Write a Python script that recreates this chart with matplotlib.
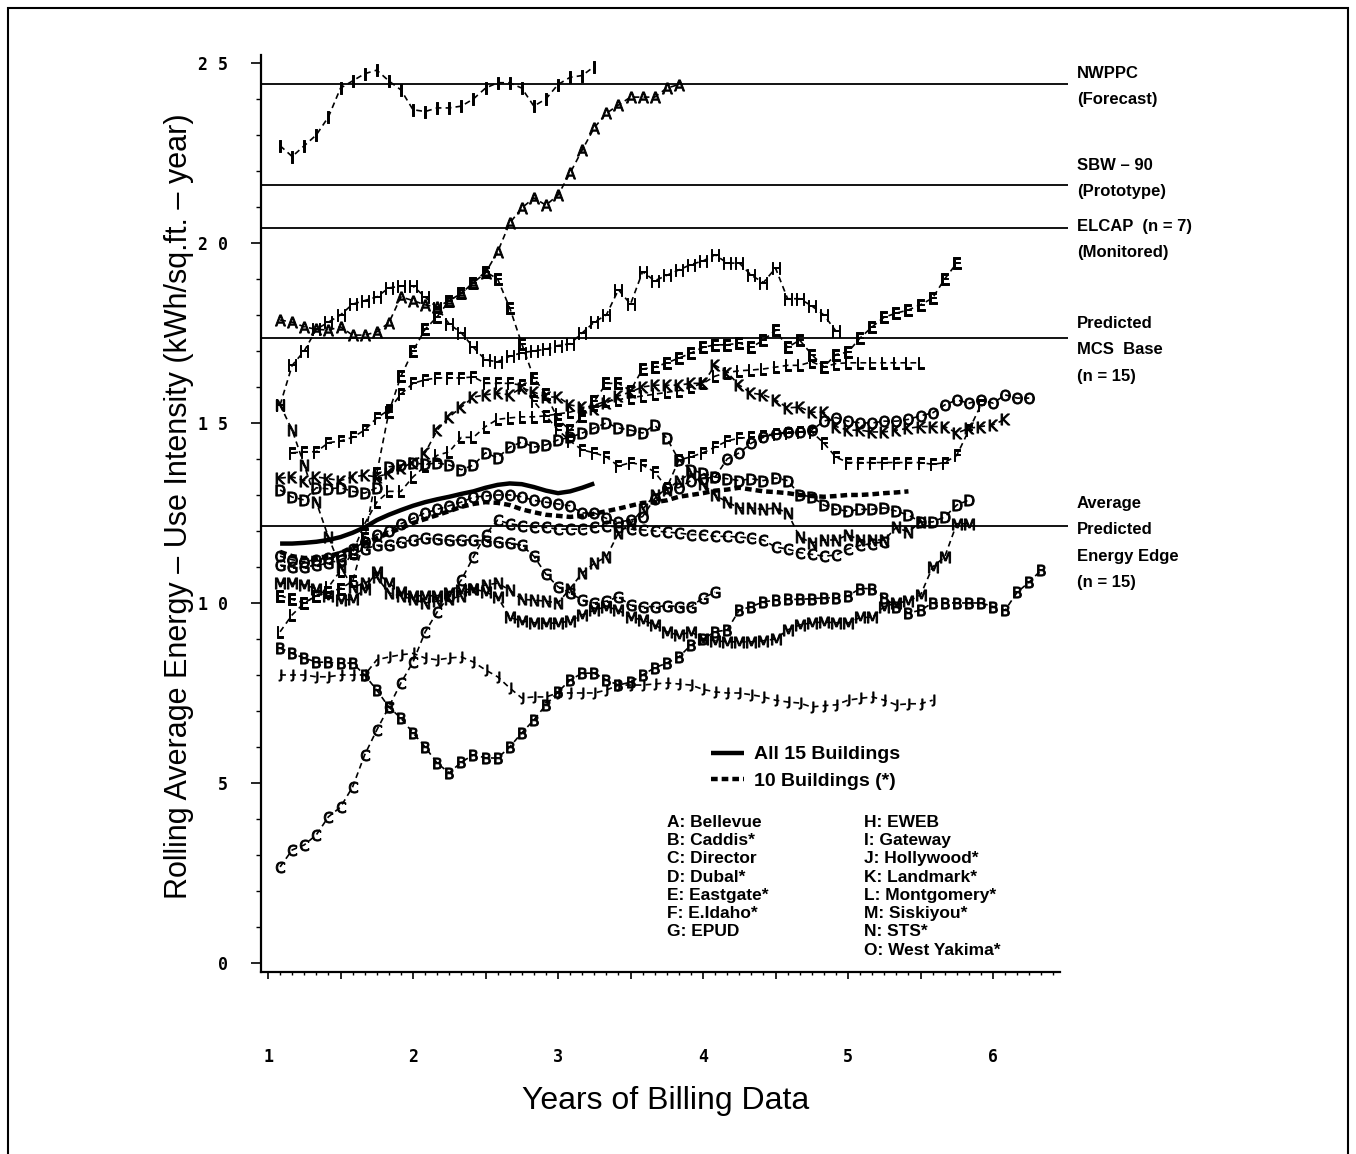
import matplotlib
matplotlib.use("Agg")
import matplotlib.pyplot as plt
from matplotlib.patches import Rectangle
from matplotlib.ticker import FixedLocator, FuncFormatter, MultipleLocator

plt.rcParams["font.family"] = ["Liberation Sans", "DejaVu Sans"]

# rolling average energy-use intensity, one value per month of billing data
bellevue = [17.86, 17.8, 17.67, 17.6, 17.58, 17.67, 17.44, 17.44, 17.53, 17.78, 18.5, 18.4,
            18.28, 18.22, 18.4, 18.6, 18.9, 19.17, 19.75, 20.55, 20.97, 21.25, 21.05, 21.33,
            21.94, 22.58, 23.2, 23.6, 23.83, 24.05, 24.05, 24.05, 24.3, 24.4]
caddis = [8.75, 8.6, 8.47, 8.36, 8.35, 8.33, 8.33, 8.0, 7.58, 7.11, 6.8, 6.39, 6.0, 5.55, 5.28,
          5.58, 5.78, 5.7, 5.69, 6.0, 6.39, 6.75, 7.17, 7.53, 7.86, 8.05, 8.05, 7.86, 7.72, 7.8,
          8.0, 8.2, 8.33, 8.5, 8.83, 9.0, 9.2, 9.25, 9.8, 9.9, 10.03, 10.08, 10.1, 10.1, 10.12,
          10.14, 10.14, 10.2, 10.4, 10.4, 10.14, 9.9, 9.72, 9.8, 10.0, 10.0, 10.0, 10.0, 10.0,
          9.9, 9.8, 10.3, 10.58, 10.92]
director = [2.67, 3.14, 3.28, 3.56, 4.06, 4.33, 4.89, 5.78, 6.47, 7.11, 7.78, 8.36, 9.19, 9.75,
            10.2, 10.64, 11.28, 11.9, 12.3, 12.2, 12.15, 12.1, 12.1, 12.05, 12.05, 12.05, 12.1,
            12.15, 12.1, 12.05, 12.03, 12.0, 11.97, 11.94, 11.9, 11.9, 11.85, 11.85, 11.83, 11.8,
            11.75, 11.55, 11.5, 11.4, 11.35, 11.3, 11.33, 11.5, 11.6, 11.65, 11.7]
dubal = [13.14, 12.94, 12.86, 13.2, 13.17, 13.2, 13.1, 13.05, 13.2, 13.78, 13.83, 13.89, 13.85,
         13.89, 13.83, 13.7, 13.83, 14.17, 14.03, 14.33, 14.47, 14.33, 14.39, 14.53, 14.6, 14.72,
         14.86, 15.0, 14.86, 14.8, 14.72, 14.94, 14.58, 13.97, 13.7, 13.6, 13.5, 13.45, 13.4,
         13.45, 13.4, 13.47, 13.4, 13.0, 12.95, 12.72, 12.6, 12.55, 12.6, 12.6, 12.64, 12.55,
         12.44, 12.25, 12.25, 12.39, 12.72, 12.86]
eastgate = [10.2, 10.1, 10.0, 10.2, 10.3, 10.4, 10.6, 11.8, 13.6, 15.3, 16.3, 17.0, 17.6, 17.95,
            18.4, 18.6, 18.9, 19.2, 19.0, 18.2, 17.2, 16.25, 15.8, 15.1, 14.8, 15.2, 15.6, 16.1,
            16.1, 15.9, 16.5, 16.55, 16.67, 16.8, 16.94, 17.1, 17.17, 17.17, 17.22, 17.1, 17.3,
            17.58, 17.1, 17.3, 16.9, 16.56, 16.9, 16.97, 17.36, 17.67, 17.94, 18.05, 18.14, 18.28,
            18.47, 19.0, 19.44]
e_idaho = [14.17, 14.2, 14.2, 14.45, 14.5, 14.6, 14.8, 15.14, 15.36, 15.8, 16.1, 16.2, 16.25,
           16.25, 16.25, 16.28, 16.1, 16.1, 16.1, 16.05, 15.6, 15.2, 14.8, 14.5, 14.25, 14.17,
           14.06, 13.8, 13.9, 13.83, 13.64, 13.2, 13.97, 14.06, 14.17, 14.33, 14.5, 14.58, 14.6,
           14.65, 14.7, 14.72, 14.75, 14.75, 14.44, 14.05, 13.9, 13.9, 13.9, 13.9, 13.9, 13.9,
           13.9, 13.85, 13.9, 14.1, 14.8, 15.5]
epud = [11.05, 11.0, 11.0, 11.05, 11.1, 11.2, 11.35, 11.5, 11.6, 11.6, 11.7, 11.75, 11.8, 11.78,
        11.75, 11.75, 11.75, 11.72, 11.7, 11.67, 11.6, 11.3, 10.8, 10.45, 10.28, 10.08, 10.0,
        10.05, 10.17, 9.94, 9.9, 9.9, 9.92, 9.9, 9.9, 10.14, 10.3]
eweb = [15.5, 16.6, 17.0, 17.6, 17.8, 18.0, 18.3, 18.4, 18.5, 18.75, 18.8, 18.8, 18.5, 18.2,
        17.75, 17.5, 17.1, 16.75, 16.7, 16.85, 16.95, 17.0, 17.05, 17.15, 17.2, 17.5, 17.8, 18.0,
        18.7, 18.3, 19.2, 18.95, 19.1, 19.25, 19.4, 19.5, 19.67, 19.44, 19.44, 19.1, 18.9, 19.3,
        18.45, 18.45, 18.25, 18.0, 17.55]
gateway = [22.7, 22.4, 22.7, 23.0, 23.5, 24.3, 24.5, 24.7, 24.8, 24.5, 24.25, 23.7, 23.65, 23.75,
           23.75, 23.8, 24.0, 24.3, 24.45, 24.45, 24.3, 23.8, 24.0, 24.4, 24.6, 24.65, 24.9]
hollywood = [8.0, 8.0, 8.0, 7.95, 7.95, 8.0, 8.0, 8.0, 8.42, 8.5, 8.56, 8.6, 8.47, 8.42, 8.47, 8.5,
             8.36, 8.14, 7.95, 7.64, 7.36, 7.39, 7.39, 7.5, 7.5, 7.5, 7.5, 7.58, 7.72, 7.72, 7.72,
             7.75, 7.78, 7.75, 7.72, 7.6, 7.53, 7.5, 7.5, 7.45, 7.39, 7.3, 7.25, 7.22, 7.11, 7.15,
             7.17, 7.3, 7.35, 7.39, 7.3, 7.17, 7.2, 7.2, 7.3]
landmark = [13.47, 13.5, 13.4, 13.5, 13.45, 13.4, 13.5, 13.55, 13.5, 13.6, 13.75, 13.9, 14.17,
            14.8, 15.17, 15.44, 15.72, 15.78, 15.83, 15.78, 15.97, 15.86, 15.72, 15.72, 15.5,
            15.44, 15.4, 15.55, 15.75, 15.86, 16.0, 16.05, 16.05, 16.05, 16.1, 16.1, 16.6, 16.4,
            16.05, 15.83, 15.78, 15.64, 15.42, 15.44, 15.3, 15.3, 14.9, 14.8, 14.8, 14.75, 14.75,
            14.8, 14.85, 14.9, 14.9, 14.9, 14.72, 14.85, 14.9, 14.95, 15.1]
montgomery = [9.2, 9.67, 10.0, 10.2, 10.44, 10.9, 11.4, 12.2, 12.8, 13.1, 13.1, 13.5, 13.8, 14.1,
              14.2, 14.6, 14.6, 14.9, 15.1, 15.14, 15.17, 15.17, 15.2, 15.25, 15.3, 15.4, 15.5,
              15.6, 15.65, 15.7, 15.75, 15.8, 15.85, 15.9, 16.0, 16.1, 16.3, 16.4, 16.45, 16.47,
              16.5, 16.55, 16.6, 16.6, 16.7, 16.55, 16.65, 16.67, 16.67, 16.67, 16.67, 16.67,
              16.67, 16.67]
siskiyou = [10.55, 10.55, 10.5, 10.4, 10.2, 10.08, 10.1, 10.4, 10.86, 10.55, 10.3, 10.2, 10.2,
            10.2, 10.28, 10.35, 10.4, 10.3, 10.17, 9.6, 9.5, 9.45, 9.44, 9.44, 9.5, 9.67, 9.8,
            9.9, 9.8, 9.6, 9.53, 9.39, 9.2, 9.1, 9.2, 9.0, 8.95, 8.92, 8.92, 8.92, 8.95, 9.0,
            9.25, 9.39, 9.45, 9.47, 9.45, 9.44, 9.6, 9.6, 9.9, 10.0, 10.05, 10.22, 11.0, 11.28,
            12.2, 12.2]
sts = [15.5, 14.8, 13.83, 12.8, 11.83, 11.0, 10.44, 10.55, 10.72, 10.28, 10.2, 10.1, 10.0, 10.05,
       10.1, 10.2, 10.4, 10.5, 10.55, 10.36, 10.1, 10.08, 10.05, 10.0, 10.4, 10.83, 11.1, 11.28,
       11.94, 12.2, 12.6, 13.0, 13.14, 13.4, 13.6, 13.3, 13.0, 12.8, 12.64, 12.64, 12.6, 12.64,
       12.5, 11.83, 11.67, 11.75, 11.75, 11.89, 11.75, 11.75, 11.75, 12.1, 11.97, 12.25]
west_yakima = [11.3, 11.2, 11.15, 11.2, 11.25, 11.3, 11.5, 11.7, 11.9, 12.0, 12.2, 12.35, 12.5,
               12.6, 12.7, 12.8, 12.94, 12.97, 13.0, 13.0, 12.95, 12.85, 12.8, 12.75, 12.7, 12.5,
               12.5, 12.35, 12.25, 12.3, 12.4, 12.9, 13.2, 13.2, 13.4, 13.45, 13.5, 14.0, 14.17,
               14.44, 14.6, 14.7, 14.75, 14.75, 14.8, 15.05, 15.15, 15.05, 15.0, 15.0, 15.05, 15.05,
               15.1, 15.2, 15.28, 15.5, 15.64, 15.55, 15.64, 15.55, 15.78, 15.69, 15.69]

all_15 = [11.65, 11.65, 11.67, 11.7, 11.75, 11.83, 11.95, 12.1, 12.3, 12.45, 12.58, 12.7, 12.8,
          12.88, 12.95, 13.03, 13.1, 13.2, 13.28, 13.32, 13.3, 13.22, 13.12, 13.05, 13.1, 13.2,
          13.32]
ten_bldg = [11.42, 11.3, 11.25, 11.25, 11.3, 11.39, 11.55, 11.67, 11.8, 11.94, 12.08, 12.22,
            12.33, 12.44, 12.55, 12.67, 12.75, 12.8, 12.78, 12.72, 12.6, 12.52, 12.45, 12.42,
            12.39, 12.42, 12.48, 12.55, 12.62, 12.7, 12.78, 12.8, 12.85, 12.95, 13.0, 13.05, 13.12,
            13.15, 13.2, 13.15, 13.1, 13.08, 13.05, 13.0, 12.97, 12.95, 12.97, 13.0, 13.0, 13.02,
            13.05, 13.07, 13.1]

letters = list("ABCDEFGHIJKLMNO")
names = ["Bellevue", "Caddis*", "Director", "Dubal*", "Eastgate*", "E.Idaho*", "EPUD",
         "EWEB", "Gateway", "Hollywood*", "Landmark*", "Montgomery*", "Siskiyou*", "STS*",
         "West Yakima*"]
series = [bellevue, caddis, director, dubal, eastgate, e_idaho, epud, eweb, gateway,
          hollywood, landmark, montgomery, siskiyou, sts, west_yakima]
first_month = [13, 13, 13, 13, 13, 14, 13, 13, 13, 13, 13, 13, 13, 13, 13]
avg_first_month = 13

ref_values = [24.42, 21.62, 20.42, 17.36, 12.14]
ref_labels = ["NWPPC\n(Forecast)", "SBW \u2013 90\n(Prototype)", "ELCAP  (n = 7)\n(Monitored)",
              "Predicted\nMCS  Base\n(n = 15)", "Average\nPredicted\nEnergy Edge\n(n = 15)"]
ref_label_top = [66, 158, 219, 316, 496]   # pixel row of first text line


def years(first, n):
    return [(first + i) / 12.0 for i in range(n)]


W, H = 1356, 1154
fig = plt.figure(figsize=(W / 100, H / 100), dpi=100)
ax = fig.add_axes([261 / W, 1 - 972 / H, (1068 - 261) / W, (972 - 55) / H])
ax.set_xlim(0.9517, 6.517)
ax.set_ylim(-0.25, 25.22)

for y in ref_values:
    ax.axhline(y, color="black", lw=1.3, zorder=1)

for let, vals, m0 in zip(letters, series, first_month):
    ax.plot(years(m0, len(vals)), vals, color="black", lw=1.2, dashes=(3.5, 2.5),
            marker=r"$\mathsf{%s}$" % let, markersize=8, markeredgewidth=0.7, zorder=2)

h_all, = ax.plot(years(avg_first_month, len(all_15)), all_15, color="black", lw=3.2,
                 solid_capstyle="butt", zorder=3, label="All 15 Buildings")
h_ten, = ax.plot(years(avg_first_month, len(ten_bldg)), ten_bldg, color="black", lw=3.2,
                 dashes=(1.5, 0.9), zorder=3, label="10 Buildings (*)")

# axes cosmetics
for s in ("top", "right"):
    ax.spines[s].set_visible(False)
for s in ("left", "bottom"):
    ax.spines[s].set_linewidth(1.6)
ax.spines["bottom"].set_bounds(0.9517, 6.46)

ax.yaxis.set_major_locator(MultipleLocator(5))
ax.yaxis.set_minor_locator(MultipleLocator(1))
ax.yaxis.set_major_formatter(FuncFormatter(lambda v, p: " ".join(str(int(round(v))))))
ax.xaxis.set_major_locator(FixedLocator([1 + 0.5 * k for k in range(11)]))
ax.xaxis.set_minor_locator(FixedLocator([m / 12.0 for m in range(12, 78)]))
ax.xaxis.set_major_formatter(FuncFormatter(lambda v, p: str(int(v)) if abs(v - round(v)) < 1e-6 else ""))
ax.tick_params(axis="y", which="major", direction="out", length=7, width=1.2, pad=17)
ax.tick_params(axis="y", which="minor", direction="out", length=3.5, width=1.0)
ax.tick_params(axis="x", which="major", direction="out", length=5, width=1.2, pad=50)
ax.tick_params(axis="x", which="minor", direction="out", length=2.5, width=1.0)
for lab in ax.get_xticklabels() + ax.get_yticklabels():
    lab.set_fontfamily("DejaVu Sans Mono")
    lab.set_fontweight("bold")
    lab.set_fontsize(12)

fig.text(179 / W, 1 - 506 / H, "Rolling Average Energy \u2013 Use Intensity (kWh/sq.ft. \u2013 year)",
         rotation=90, ha="center", va="center", fontsize=22)
fig.text(666 / W, 1 - 1101 / H, "Years of Billing Data", ha="center", va="center", fontsize=23)

for lab, top in zip(ref_labels, ref_label_top):
    fig.text(1077 / W, 1 - top / H, lab, ha="left", va="top", fontsize=12,
             fontweight="bold", linespacing=1.95)

fig.legend(handles=[h_all, h_ten], loc="upper left", bbox_to_anchor=(701 / W, 1 - 736 / H),
           frameon=False, prop={"weight": "bold", "size": 14},
           handlelength=1.7, handletextpad=0.5, labelspacing=0.45, borderpad=0)

left_col = "\n".join(f"{l}: {n}" for l, n in zip(letters[:7], names[:7]))
right_col = "\n".join(f"{l}: {n}" for l, n in zip(letters[7:], names[7:]))
fig.text(667 / W, 1 - 815 / H, left_col, ha="left", va="top", fontsize=12.5,
         fontweight="bold", linespacing=1.27)
fig.text(864 / W, 1 - 815 / H, right_col, ha="left", va="top", fontsize=12.5,
         fontweight="bold", linespacing=1.27)

fig.patches.append(Rectangle((8 / W, -0.05), 1340 / W, 1.05 - 8 / H, transform=fig.transFigure,
                             fill=False, lw=1.5, edgecolor="black"))

fig.savefig("out.png", dpi=100)
